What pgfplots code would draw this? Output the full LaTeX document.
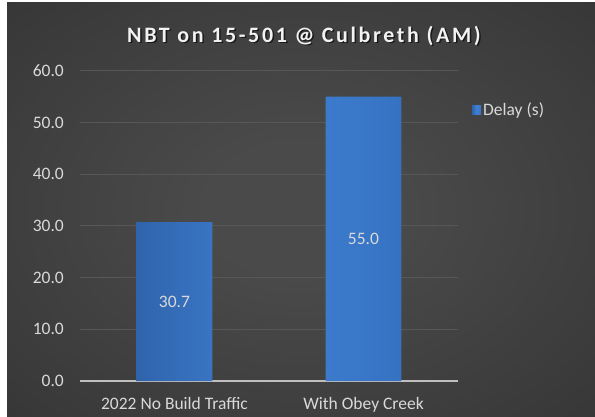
\documentclass[border=0pt]{standalone}
\usepackage{fontspec}
\setmainfont{Carlito}
\newfontfamily\titlefont[LetterSpace=12]{Carlito}
\usepackage{pgfplots}
\pgfplotsset{compat=1.18}
\pgfkeys{/pgf/number format/assume math mode=true}
\definecolor{bgin}{HTML}{4A4A4A}
\definecolor{bgout}{HTML}{1E1E1E}
\definecolor{gridc}{HTML}{575757}
\definecolor{axc}{HTML}{BFBFBF}
\definecolor{tickc}{HTML}{D9D9D9}
\definecolor{barL}{HTML}{2F64AC}
\definecolor{barM}{HTML}{4081D4}
\definecolor{barR}{HTML}{3672C2}
\pgfdeclareradialshading{bgshade}{\pgfpoint{0bp}{0bp}}{color(0bp)=(bgin); color(8bp)=(bgin); color(72bp)=(bgout); color(80bp)=(bgout)}
\begin{document}
\begin{tikzpicture}
\useasboundingbox (0pt,0pt) rectangle (595pt,416pt);
\fill[white] (0pt,0pt) rectangle (595pt,416pt);
\shade[shading=bgshade] (7pt,0pt) rectangle (595pt,413pt);
\node[text=black, opacity=0.6] at (305.5pt,378.5pt) {\titlefont\bfseries\fontsize{22}{25}\selectfont NBT on 15-501 @ Culbreth (AM)};
\node[text=white!95!black] at (304pt,380pt) {\titlefont\bfseries\fontsize{22}{25}\selectfont NBT on 15-501 @ Culbreth (AM)};
\begin{axis}[
  at={(80pt,35pt)}, anchor=south west,
  scale only axis, width=378pt, height=310.3pt,
  xmin=-0.5, xmax=1.5, ymin=0, ymax=60,
  xtick={0,1}, xticklabels={2022 No Build Traffic, With Obey Creek},
  ytick={0,10,...,60},
  yticklabel={\pgfmathprintnumber[fixed,fixed zerofill,precision=1]{\tick}},
  axis x line*=bottom, axis y line*=left,
  x axis line style={draw=axc, line width=1.3pt, -},
  y axis line style={draw=none},
  major tick length=0pt,
  ymajorgrids, grid style={color=gridc, line width=0.8pt},
  tick label style={text=tickc, font=\fontsize{17.5}{20}\selectfont},
  yticklabel style={inner sep=0pt, anchor=east, xshift=-16pt},
  xticklabel style={inner sep=0pt, anchor=north, yshift=-16pt},
  legend style={at={(1.037,0.873)}, anchor=west, draw=none, fill=none,
    text=tickc, font=\fontsize{17.5}{20}\selectfont, inner sep=0pt,
    nodes={inner sep=2pt}},
  legend image code/.code={\shade[left color=barL, right color=barR, middle color=barM] (0pt,-4.5pt) rectangle (9pt,4.5pt);},
]
\addplot[ybar, bar width=0.4, draw=none, left color=barL, right color=barR, middle color=barM,
  visualization depends on={rawy/2 \as \halfy},
  nodes near coords={\pgfmathprintnumber[fixed,fixed zerofill,precision=1]{\pgfplotspointmeta}},
  every node near coord/.append style={anchor=center, text=tickc, font=\fontsize{17.5}{20}\selectfont, shift={(axis direction cs:0,-\halfy)}},
] coordinates {(0,30.7) (1,55.0)};
\addlegendentry{Delay (s)}
\end{axis}
\end{tikzpicture}
\end{document}
